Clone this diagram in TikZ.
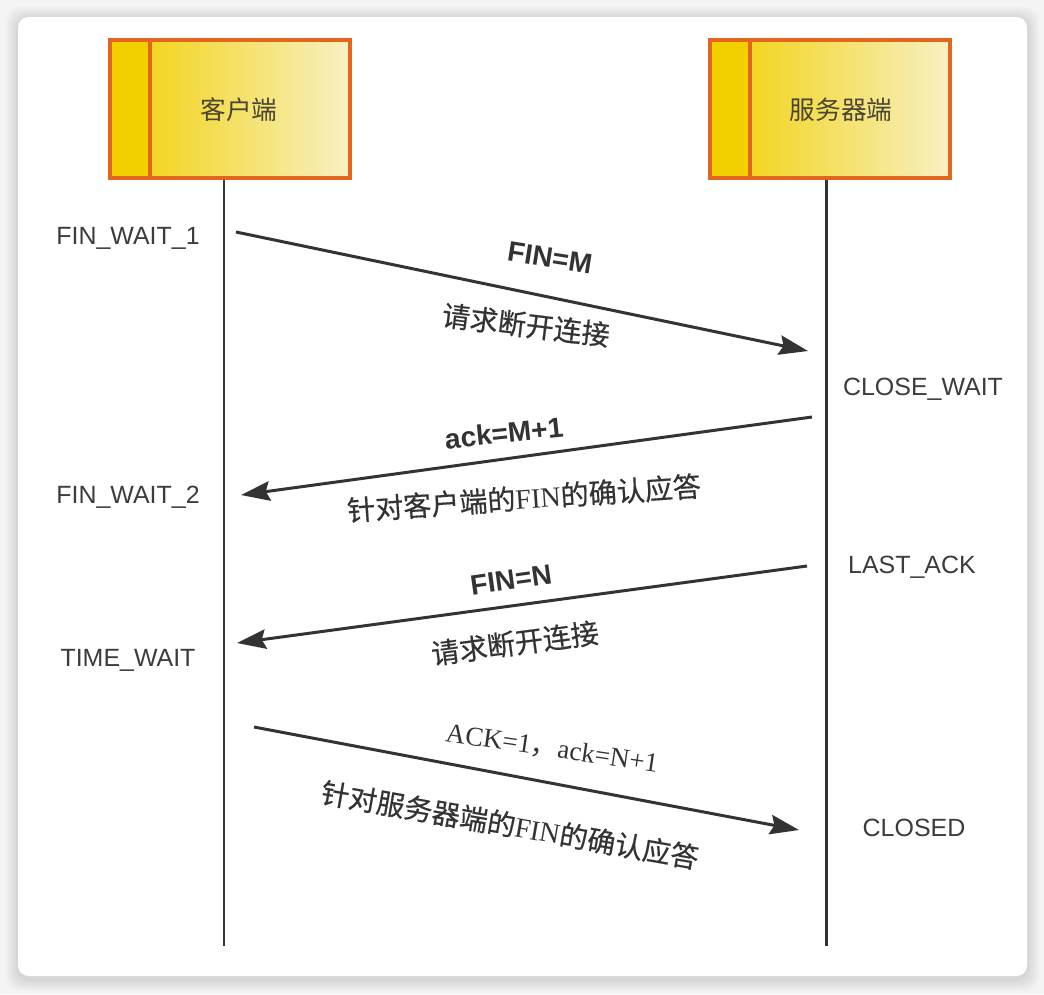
\documentclass[tikz,border=0pt]{standalone}
\usepackage{fontspec}
\setmainfont{Liberation Sans}
\newfontfamily\cjkfont{Noto Sans CJK SC}
\newfontfamily\cjkheavy[FakeBold=0.45]{Noto Sans CJK SC}
\newfontfamily\serfont{Liberation Serif}
\usepackage{tikz}
\usetikzlibrary{positioning, arrows.meta, calc}

\definecolor{edgeorange}{HTML}{E2661E}
\definecolor{headgold}{HTML}{F2D000}
\definecolor{headpale}{HTML}{F7F0C4}
\definecolor{headink}{HTML}{4B4632}
\definecolor{inkgray}{HTML}{333333}
\definecolor{stategray}{HTML}{3C3C3C}
\definecolor{pagegray}{HTML}{F4F4F4}

\newcommand{\cliX}{224}
\newcommand{\srvX}{826}
\newcommand{\lineEnd}{946}

\tikzset{
  % --- nodes ---
  headbox/.style   = {draw=edgeorange, line width=2pt, left color=headgold,
                      right color=headpale, inner sep=0pt, outer sep=0pt,
                      minimum width=4.81cm, minimum height=2.77cm},
  headstrip/.style = {draw=edgeorange, line width=2pt, fill=headgold},
  headtext/.style  = {font=\cjkfont\fontsize{14.6}{17}\selectfont, text=headink},
  stlabel/.style   = {font=\fontsize{14.2}{17}\selectfont, text=stategray},
  msg/.style       = {font=\bfseries\fontsize{16}{19}\selectfont, text=inkgray},
  note/.style      = {font=\cjkheavy\fontsize{16}{19}\selectfont, text=inkgray},
  ackmsg/.style    = {font=\serfont\fontsize{15.4}{18}\selectfont, text=inkgray},
  % --- edges ---
  life/.style      = {line width=1.7pt, inkgray},
  sig/.style       = {-{Stealth[length=5.8mm, width=3.9mm, inset=0.8mm]},
                      line width=1.7pt, inkgray},
}

\begin{document}
\begin{tikzpicture}[x=0.02cm, y=-0.02cm]

  \useasboundingbox (0,0) rectangle (1044,994);

  % ===================================================================
  %  CARD
  % ===================================================================
  \fill[pagegray] (0,0) rectangle (1044,994);
  \foreach \g in {2,4,...,12}
    \fill[black, opacity=0.02, rounded corners=8pt] (18-\g,19-\g) rectangle (1027+\g,979+\g);
  \fill[white, rounded corners=6pt] (18,17) rectangle (1027,976);

  % ===================================================================
  %  LIFELINE HEADS
  % ===================================================================
  \node[headbox] (cbox) at (230,109) {};
  \node[headbox] (sbox) at (830,109) {};
  \draw[headstrip] (cbox.north west) rectangle ($(cbox.south west)+(40,0)$);
  \draw[headstrip] (sbox.north west) rectangle ($(sbox.south west)+(40,0)$);
  \node[headtext] (ctext) at ($(cbox)+(9,1)$) {客户端};
  \node[headtext] (stext) at ($(sbox)+(11,1)$) {服务器端};

  % --- lifelines ---
  \coordinate (cend) at (\cliX,\lineEnd);
  \coordinate (send) at (\srvX,\lineEnd);
  \draw[life] ($(cbox.south -| cend)+(0,2)$) -- (cend);
  \draw[life] ($(sbox.south -| send)+(0,2)$) -- (send);

  % ===================================================================
  %  STATES
  % ===================================================================
  \node[stlabel] (fw1) at (128,238) {FIN\_WAIT\_1};
  \node[stlabel] (fw2) at (128,497) {FIN\_WAIT\_2};
  \node[stlabel] (tw)  at (128,660) {TIME\_WAIT};
  \node[stlabel] (cw)  at (923,389) {CLOSE\_WAIT};
  \node[stlabel] (la)  at (912,567) {LAST\_ACK};
  \node[stlabel] (cl)  at (914,828) {CLOSED};

  % ===================================================================
  %  MESSAGES
  % ===================================================================
  \coordinate (m1a) at (236,232);  \coordinate (m1b) at (808,351);
  \coordinate (m2a) at (812,417);  \coordinate (m2b) at (241,495);
  \coordinate (m3a) at (807,566);  \coordinate (m3b) at (237,643);
  \coordinate (m4a) at (254,727);  \coordinate (m4b) at (799,830);

  \draw[sig] (m1a) -- (m1b);
  \node[msg, rotate=-9]  (m1top) at (550,258) {FIN=M};
  \node[note, rotate=-7] (m1bot) at (526,325) {请求断开连接};

  \draw[sig] (m2a) -- (m2b);
  \node[msg, rotate=6]   (m2top) at (504,433) {ack=M+1};
  \node[note, rotate=4]  (m2bot) at (524,498) {针对客户端的{\serfont FIN}的确认应答};

  \draw[sig] (m3a) -- (m3b);
  \node[msg, rotate=8]     (m3top) at (511,580) {FIN=N};
  \node[note, rotate=7.5]  (m3bot) at (515,643) {请求断开连接};

  \draw[sig] (m4a) -- (m4b);
  \node[ackmsg, rotate=-8.3] (m4top) at (552,749) {ACK=1{\cjkfont ，}ack=N+1};
  \node[note, rotate=-10]    (m4bot) at (510,825) {针对服务器端的{\serfont FIN}的确认应答};

\end{tikzpicture}
\end{document}
